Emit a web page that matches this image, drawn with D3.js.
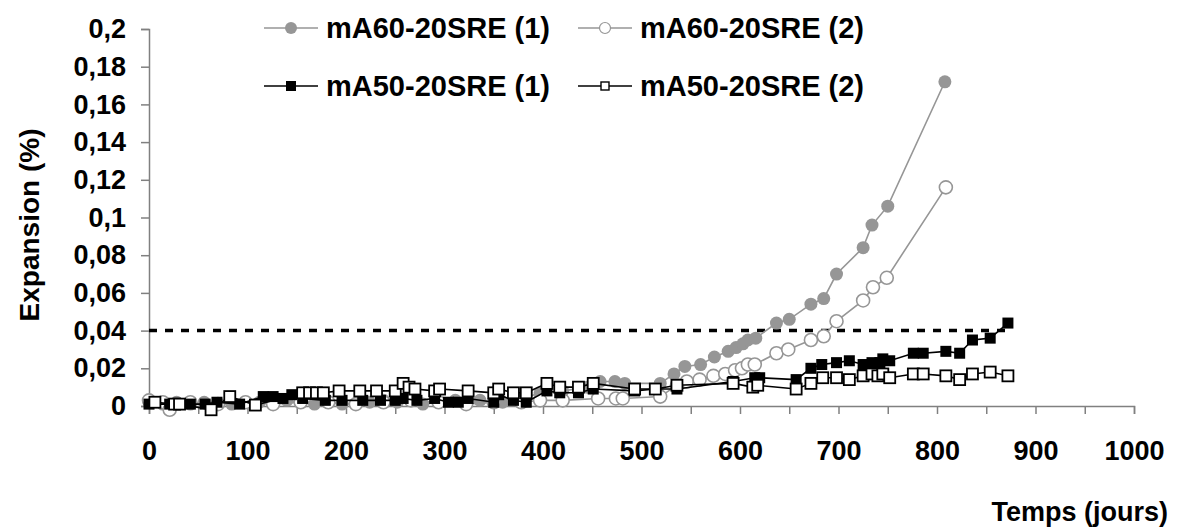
<!DOCTYPE html>
<html>
<head>
<meta charset="utf-8">
<script src="https://cdn.jsdelivr.net/npm/d3@7"></script>
<style>
  html, body { margin: 0; padding: 0; background: #fff; }
  svg { display: block; }
  text { font-family: "Liberation Sans", Arial, sans-serif; font-weight: bold; fill: #000; }
</style>
</head>
<body>
<svg id="chart" width="1179" height="532"></svg>
<script>
// ---- data (days, expansion %) ----
const a1Days = [0,14,28,42,56,84,112,126,140,154,168,182,196,224,238,252,265,278,294,311,336,359,380,397,420,445,458,473,483,519,533,544,560,574,588,596,603,608,616,637,650,672,685,698,725,734,750,808];
const a1Vals = [0.002,0.001,0.002,0.001,0.002,0.001,0.002,0.001,0.003,0.002,0.001,0.002,0.001,0.002,0.003,0.002,0.003,0.001,0.002,0.003,0.003,0.002,0.004,0.007,0.008,0.010,0.013,0.013,0.012,0.012,0.017,0.021,0.022,0.026,0.029,0.031,0.033,0.035,0.036,0.044,0.046,0.054,0.057,0.070,0.084,0.096,0.106,0.172];

const a2Days = [0,14,21,42,70,98,126,154,182,210,238,266,294,322,350,378,397,420,456,474,481,519,536,546,559,573,585,595,602,608,615,637,649,672,685,698,725,735,749,809];
const a2Vals = [0.003,0.002,-0.002,0.002,0.001,0.002,0.001,0.002,0.002,0.001,0.002,0.003,0.002,0.001,0.002,0.002,0.003,0.003,0.004,0.004,0.004,0.005,0.011,0.013,0.014,0.016,0.017,0.019,0.020,0.022,0.022,0.028,0.030,0.035,0.037,0.045,0.056,0.063,0.068,0.116];

const b1Days = [0,21,42,57,69,92,116,126,136,145,156,179,196,217,235,250,258,272,290,304,314,324,350,355,370,383,404,417,436,451,493,514,536,593,615,620,657,672,683,698,711,725,734,742,745,752,776,786,809,823,836,854,872];
const b1Vals = [0.001,0.001,0.001,0.001,0.002,0.001,0.005,0.005,0.004,0.006,0.004,0.003,0.003,0.003,0.003,0.003,0.004,0.003,0.004,0.002,0.002,0.004,0.002,0.006,0.003,0.002,0.008,0.007,0.007,0.009,0.008,0.009,0.009,0.013,0.015,0.015,0.014,0.020,0.022,0.023,0.024,0.022,0.023,0.023,0.025,0.024,0.028,0.028,0.029,0.028,0.035,0.036,0.044];

const b2Days = [6,26,31,63,82,108,156,163,170,177,193,214,231,250,258,264,270,290,295,324,350,355,370,383,404,417,436,451,493,514,536,593,613,618,657,672,684,698,711,725,734,740,745,752,776,786,809,823,836,854,872];
const b2Vals = [0.002,0.001,0.001,-0.002,0.005,0.0005,0.007,0.007,0.007,0.007,0.008,0.008,0.008,0.008,0.012,0.010,0.009,0.008,0.009,0.008,0.007,0.009,0.007,0.007,0.012,0.010,0.010,0.012,0.009,0.009,0.011,0.012,0.010,0.011,0.009,0.012,0.015,0.015,0.014,0.016,0.017,0.016,0.017,0.015,0.017,0.017,0.016,0.014,0.017,0.018,0.016];

const limitDays = [0, 875];
const limitVals = [0.04, 0.04];

const seriesNames = ["mA60-20SRE (1)", "mA60-20SRE (2)", "mA50-20SRE (1)", "mA50-20SRE (2)"];
const xTickValues = [0,50,100,150,200,250,300,350,400,450,500,550,600,650,700,750,800,850,900,950,1000];
const xTickLabels = ["0","","100","","200","","300","","400","","500","","600","","700","","800","","900","","1000"];
const yTickValues = [0,0.02,0.04,0.06,0.08,0.1,0.12,0.14,0.16,0.18,0.2];
const yTickLabels = ["0","0,02","0,04","0,06","0,08","0,1","0,12","0,14","0,16","0,18","0,2"];
const xTitle = "Temps (jours)";
const yTitle = "Expansion (%)";

// ---- drawing ----
const svg = d3.select("#chart");
const x = d3.scaleLinear().domain([0, 1000]).range([149, 1134]);
const y = d3.scaleLinear().domain([0, 0.2]).range([406, 29]);
const GREY = "#969696";
const AXIS = "#808080";
const FONT = '"Liberation Sans", Arial, sans-serif';

const zip = (ds, vs) => ds.map((d, i) => ({d, v: vs[i]}));
const A1 = zip(a1Days, a1Vals), A2 = zip(a2Days, a2Vals), B1 = zip(b1Days, b1Vals), B2 = zip(b2Days, b2Vals);
const line = d3.line().x(p => x(p.d)).y(p => y(p.v));

// axes
const yAxis = svg.append("g").attr("transform", `translate(${x(0)},0)`)
  .call(d3.axisLeft(y).tickValues(yTickValues).tickSize(8).tickPadding(15)
    .tickFormat((d, i) => yTickLabels[i]));
const xAxis = svg.append("g").attr("transform", `translate(0,${y(0)})`)
  .call(d3.axisBottom(x).tickValues(xTickValues).tickSize(8).tickPadding(27)
    .tickFormat((d, i) => xTickLabels[i]));
[yAxis, xAxis].forEach(g => {
  g.select(".domain").attr("stroke", AXIS).attr("stroke-width", 1.5);
  g.selectAll(".tick line").attr("stroke", AXIS).attr("stroke-width", 1.5);
  g.selectAll(".tick text").style("font-size", "27px").style("font-family", FONT).style("font-weight", "bold").attr("fill", "#000");
});

// titles
svg.append("text").attr("x", 1168).attr("y", 521).attr("text-anchor", "end").style("font-size", "27px").text(xTitle);
svg.append("text").attr("transform", `translate(39,225) rotate(-90)`).attr("text-anchor", "middle").style("font-size", "28px").text(yTitle);

// limit dashed line
svg.append("path").datum(zip(limitDays, limitVals)).attr("d", line)
  .attr("fill", "none").attr("stroke", "#000").attr("stroke-width", 3.5).attr("stroke-dasharray", "8,8");

const SQ = 11, R = 6.5;
function drawSeries(data, kind) {
  const g = svg.append("g");
  const col = (kind === "a1" || kind === "a2") ? GREY : "#000";
  g.append("path").datum(data).attr("d", line).attr("fill", "none").attr("stroke", col).attr("stroke-width", 1.6);
  if (kind === "a1" || kind === "a2") {
    g.selectAll("circle").data(data).join("circle")
      .attr("cx", p => x(p.d)).attr("cy", p => y(p.v)).attr("r", R)
      .attr("fill", kind === "a1" ? GREY : "#fff")
      .attr("stroke", GREY).attr("stroke-width", kind === "a1" ? 0 : 1.6);
  } else {
    g.selectAll("rect").data(data).join("rect")
      .attr("x", p => x(p.d) - SQ/2).attr("y", p => y(p.v) - SQ/2).attr("width", SQ).attr("height", SQ)
      .attr("fill", kind === "b1" ? "#000" : "#fff")
      .attr("stroke", "#000").attr("stroke-width", kind === "b1" ? 0 : 1.8);
  }
}
drawSeries(A1, "a1");
drawSeries(A2, "a2");
drawSeries(B1, "b1");
drawSeries(B2, "b2");

// legend
const legendItems = [
  {name: seriesNames[0], kind: "a1", lx: 264, ly: 28},
  {name: seriesNames[1], kind: "a2", lx: 578, ly: 28},
  {name: seriesNames[2], kind: "b1", lx: 264, ly: 86},
  {name: seriesNames[3], kind: "b2", lx: 578, ly: 86}
];
const lg = svg.append("g");
legendItems.forEach(it => {
  const grey = it.kind === "a1" || it.kind === "a2";
  const col = grey ? GREY : "#000";
  lg.append("line").attr("x1", it.lx).attr("x2", it.lx + 54).attr("y1", it.ly).attr("y2", it.ly).attr("stroke", col).attr("stroke-width", 1.6);
  const cx = it.lx + 27;
  if (grey) {
    lg.append("circle").attr("cx", cx).attr("cy", it.ly).attr("r", it.kind === "a1" ? 6 : 5.5)
      .attr("fill", it.kind === "a1" ? GREY : "#fff").attr("stroke", GREY).attr("stroke-width", it.kind === "a1" ? 0 : 1.2);
  } else {
    const s = it.kind === "b1" ? 10 : 8;
    lg.append("rect").attr("x", cx - s/2).attr("y", it.ly - s/2).attr("width", s).attr("height", s)
      .attr("fill", it.kind === "b1" ? "#000" : "#fff").attr("stroke", "#000").attr("stroke-width", it.kind === "b1" ? 0 : 1.4);
  }
  lg.append("text").attr("x", it.lx + 62).attr("y", it.ly + 10).style("font-size", "29px").text(it.name);
});
</script>
</body>
</html>
